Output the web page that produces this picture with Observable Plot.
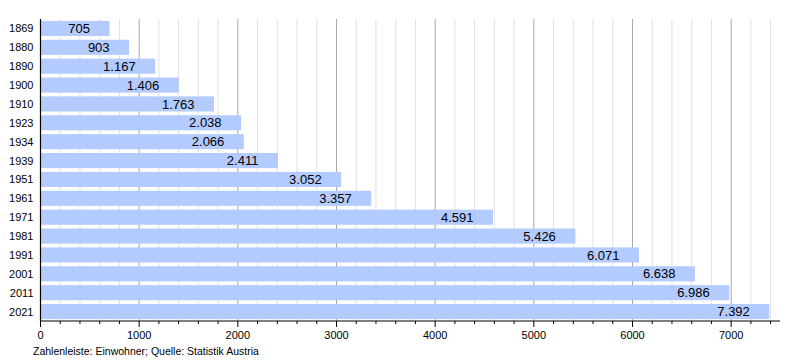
<!DOCTYPE html>
<html><head><meta charset="utf-8">
<script src="https://cdn.jsdelivr.net/npm/d3@7"></script>
<script src="https://cdn.jsdelivr.net/npm/@observablehq/plot@0.6"></script>
<style>
body{margin:0;background:#fff;font-family:"Liberation Sans",Arial,sans-serif;}
#caption{font-size:10.5px;color:#000;margin-left:33px;margin-top:2px;}
</style>
</head><body>
<div id="chart"></div>
<div id="caption">Zahlenleiste: Einwohner; Quelle: Statistik Austria</div>
<script>
const years = ["1869","1880","1890","1900","1910","1923","1934","1939","1951","1961","1971","1981","1991","2001","2011","2021"];
const population = [705,903,1167,1406,1763,2038,2066,2411,3052,3357,4591,5426,6071,6638,6986,7392];
const majorTicks = [0,1000,2000,3000,4000,5000,6000,7000];
const minorTicks = d3.range(200, 7600, 200).filter(v => v % 1000 !== 0);

const data = years.map((y, i) => ({year: y, value: population[i]}));
const de = d3.formatLocale({decimal: ",", thousands: ".", grouping: [3], currency: ["", " €"]});
const fmt = de.format(",d");

function bottomAxisLine(index, scales, values, dimensions) {
  const {width, height, marginLeft, marginRight, marginBottom} = dimensions;
  const l = document.createElementNS("http://www.w3.org/2000/svg", "line");
  l.setAttribute("x1", marginLeft);
  l.setAttribute("x2", width - marginRight);
  l.setAttribute("y1", height - marginBottom);
  l.setAttribute("y2", height - marginBottom);
  l.setAttribute("stroke", "#000");
  l.setAttribute("stroke-width", 1.2);
  return l;
}

const plot = Plot.plot({
  width: 800,
  height: 343,
  marginLeft: 40,
  marginRight: 20,
  marginTop: 19,
  marginBottom: 22,
  style: {fontFamily: "Liberation Sans, Arial, sans-serif", fontSize: "11px", color: "#000", background: "#fff"},
  x: {domain: [0, 7500], label: null},
  y: {domain: years, paddingInner: 0.2, paddingOuter: 0.1, round: false, label: null},
  marks: [
    Plot.gridX(minorTicks, {stroke: "#e0e0e0", strokeOpacity: 1}),
    Plot.gridX(majorTicks.slice(1), {stroke: "#a8a8a8", strokeOpacity: 1}),
    Plot.barX(data, {x: "value", y: "year", fill: "#b4cbff"}),
    Plot.text(data, {x: "value", y: "year", text: d => fmt(d.value), textAnchor: "end", dx: -20, fontSize: 13, fill: "#000"}),
    Plot.axisY({tickSize: 0, tickPadding: 7, fontSize: 11}),
    Plot.axisX(minorTicks, {tickSize: 3, text: null, stroke: "#000"}),
    Plot.axisX(majorTicks, {tickSize: 6, tickPadding: 4, fontSize: 11, stroke: "#000", tickFormat: "d"}),
    Plot.ruleX([0], {stroke: "#000", strokeWidth: 1.2}),
    bottomAxisLine
  ]
});
document.getElementById("chart").appendChild(plot);
</script>
</body></html>
